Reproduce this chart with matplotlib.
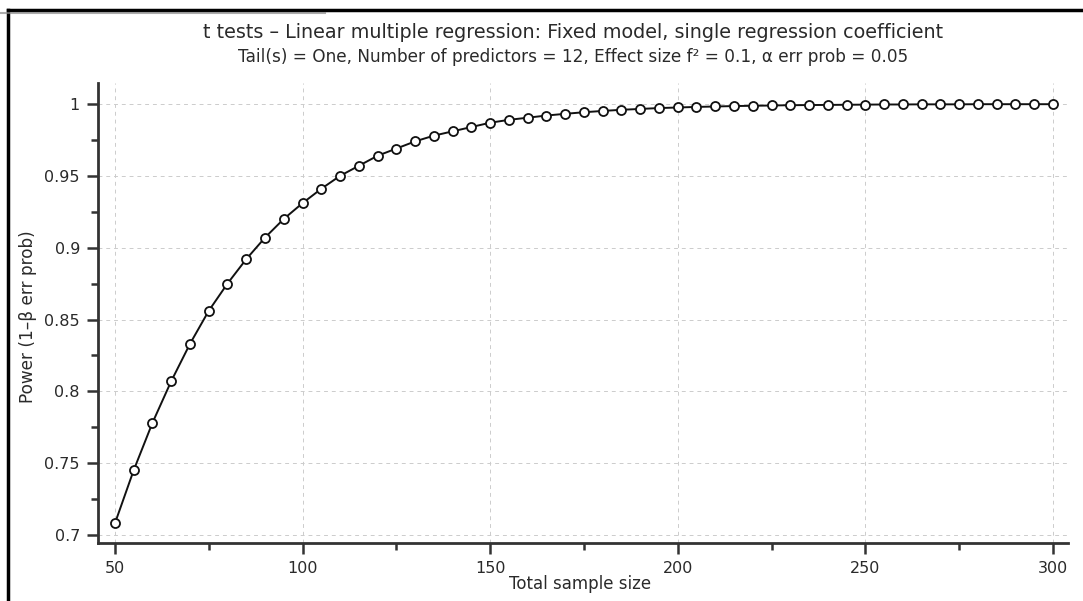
import matplotlib
matplotlib.use("Agg")
import matplotlib.pyplot as plt
from matplotlib.lines import Line2D
from matplotlib.ticker import MultipleLocator

plt.rcParams["font.family"] = ["DejaVu Sans"]

# ---- Data
sample_size = [50, 55, 60, 65, 70, 75, 80, 85, 90, 95,
               100, 105, 110, 115, 120, 125, 130, 135, 140, 145,
               150, 155, 160, 165, 170, 175, 180, 185, 190, 195,
               200, 205, 210, 215, 220, 225, 230, 235, 240, 245,
               250, 255, 260, 265, 270, 275, 280, 285, 290, 295, 300]
power = [0.708, 0.745, 0.778, 0.807, 0.833, 0.856, 0.875, 0.892, 0.907, 0.920,
         0.931, 0.941, 0.950, 0.957, 0.964, 0.969, 0.974, 0.978, 0.981, 0.984,
         0.987, 0.989, 0.9905, 0.992, 0.9932, 0.9943, 0.9952, 0.996, 0.9966, 0.9972,
         0.9976, 0.998, 0.9983, 0.9986, 0.9988, 0.999, 0.9992, 0.9993, 0.9994, 0.9995,
         0.9996, 0.9997, 0.9997, 0.9998, 0.9998, 0.9998, 0.9999, 0.9999, 0.9999, 0.9999, 0.9999]

x_ticks = [50, 100, 150, 200, 250, 300]
y_ticks = [0.7, 0.75, 0.8, 0.85, 0.9, 0.95, 1.0]
y_tick_labels = ["0.7", "0.75", "0.8", "0.85", "0.9", "0.95", "1"]

title = "t tests \u2013 Linear multiple regression: Fixed model, single regression coefficient"
subtitle = "Tail(s) = One, Number of predictors = 12, Effect size f\u00b2 = 0.1, \u03b1 err prob = 0.05"

TXT = "#2a2a2a"

# ---- Layout
fig = plt.figure(figsize=(10.83, 6.01), dpi=100)
ax = fig.add_axes([0.0905, 0.0965, 0.8956, 0.7655])

ax.plot(sample_size, power, color="#111111", linewidth=1.4,
        marker="o", markersize=6.5, markerfacecolor="white",
        markeredgecolor="#111111", markeredgewidth=1.3, zorder=3)

ax.set_xlim(45.5, 304)
ax.set_ylim(0.6944, 1.0147)
ax.set_xticks(x_ticks)
ax.set_yticks(y_ticks)
ax.set_yticklabels(y_tick_labels)
ax.xaxis.set_minor_locator(MultipleLocator(25))
ax.yaxis.set_minor_locator(MultipleLocator(0.025))

ax.grid(which="major", linestyle=(0, (4, 4)), linewidth=0.7, color="#cccccc", zorder=1)

ax.spines[["top", "right"]].set_visible(False)
for s in ("left", "bottom"):
    ax.spines[s].set_color("#333333")
    ax.spines[s].set_linewidth(2.0)

ax.tick_params(which="major", length=8, width=1.8, color="#333333",
               labelsize=11.5, labelcolor=TXT, pad=5)
ax.tick_params(which="minor", length=5, width=1.8, color="#333333")

ax.set_xlabel("Total sample size", fontsize=12, color=TXT)
ax.xaxis.set_label_coords(0.497, -0.07)
ax.xaxis.label.set_va("top")
ax.set_ylabel("Power (1\u2013\u03b2 err prob)", fontsize=12.2, color=TXT)
ax.yaxis.set_label_coords(-0.072, 0.493)
ax.yaxis.label.set_va("center")

fig.text(0.5295, 0.946, title, ha="center", va="center", fontsize=13.8, color=TXT)
fig.text(0.5295, 0.905, subtitle, ha="center", va="center", fontsize=12.2, color=TXT)

# window frame lines of the screenshot
fig.add_artist(Line2D([0.0074, 1.0], [0.983, 0.983], transform=fig.transFigure,
                      color="black", linewidth=2.5))
fig.add_artist(Line2D([0.0074, 0.0074], [0.0, 0.983], transform=fig.transFigure,
                      color="black", linewidth=2.5))
fig.add_artist(Line2D([0.0, 0.3], [0.978, 0.978], transform=fig.transFigure,
                      color="#888888", linewidth=1.5, alpha=0.7))

fig.savefig("out.png", dpi=100)
